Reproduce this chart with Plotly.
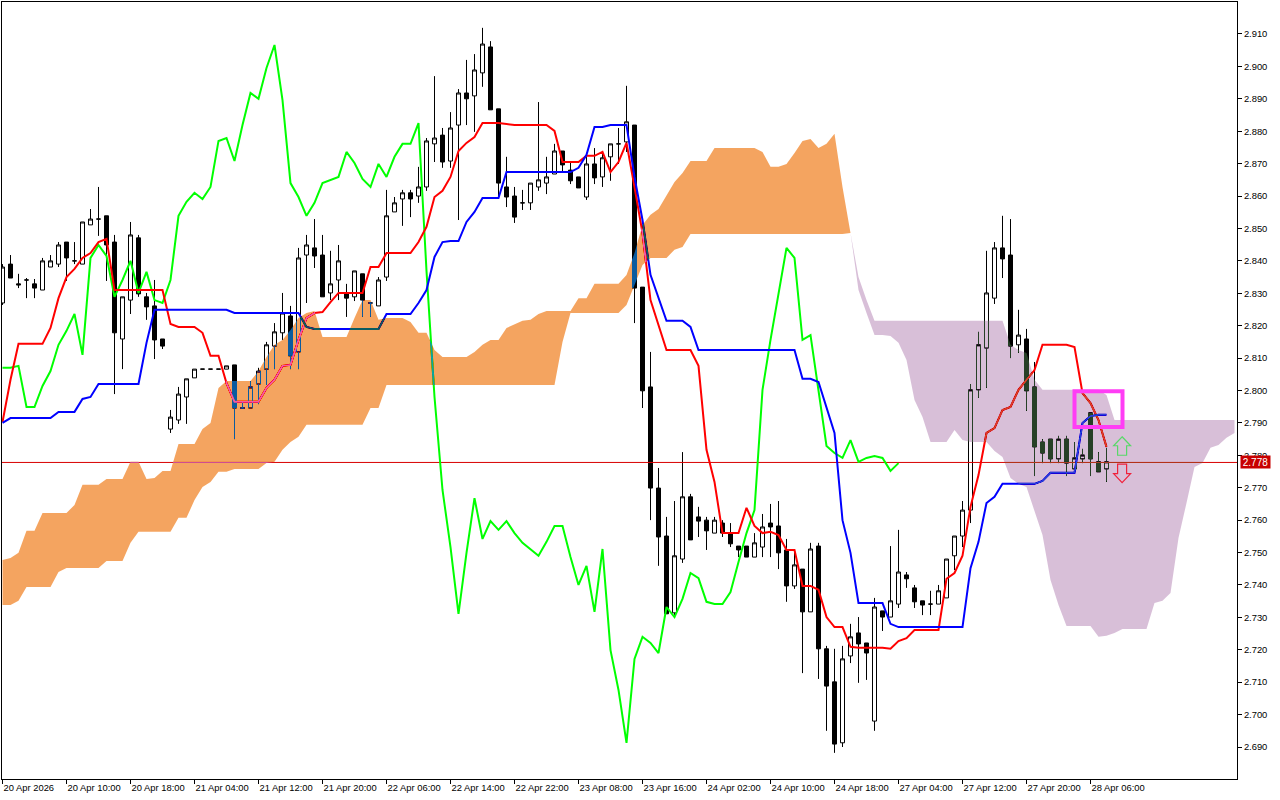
import plotly.graph_objects as go

open_ = [2.8270,2.8390,2.8329,2.8341,2.8329,2.8310,2.8381,2.8390,2.8458,2.8400,
2.8390,2.8511,2.8529,2.8539,2.8458,2.8159,2.8279,2.8471,2.8289,2.8261,
2.8159,2.7881,2.7909,2.7980,2.8039,2.8066,2.8066,2.8066,2.8066,2.8079,
2.7946,2.7946,2.8020,2.8066,2.8137,2.8178,2.8230,2.8119,2.8418,2.8440,
2.8418,2.8301,2.8341,2.8301,2.8289,2.8360,2.8270,2.8261,2.8350,2.8551,
2.8591,2.8610,2.8600,2.8628,2.8761,2.8788,2.8708,2.8819,2.8918,2.8909,
2.8980,2.9060,2.8869,2.8628,2.8600,2.8579,2.8579,2.8628,2.8640,2.8668,
2.8739,2.8680,2.8659,2.8597,2.8699,2.8659,2.8721,2.8761,2.8767,2.8819,
2.8319,2.8011,2.7699,2.7551,2.7314,2.7480,2.7672,2.7610,2.7600,2.7560,
2.7591,2.7560,2.7520,2.7520,2.7486,2.7517,2.7591,2.7582,2.7508,2.7397,
2.7449,2.7317,2.7520,2.7203,2.7101,2.6913,2.7181,2.7252,2.7221,2.6980,
2.7320,2.7301,2.7341,2.7431,2.7391,2.7351,2.7341,2.7341,2.7360,2.7490,
2.7551,2.7631,2.8002,2.8131,2.8285,2.8440,2.8418,2.8141,2.8159,2.8011,
2.7841,2.7850,2.7789,2.7850,2.7758,2.7789,2.7931,2.7780,2.7758]

high = [2.8390,2.8418,2.8360,2.8347,2.8344,2.8409,2.8418,2.8458,2.8458,2.8458,
2.8520,2.8560,2.8628,2.8539,2.8480,2.8289,2.8520,2.8480,2.8301,2.8341,
2.8159,2.7940,2.8011,2.8036,2.8066,2.8066,2.8066,2.8066,2.8076,2.8079,
2.7965,2.8029,2.8070,2.8150,2.8208,2.8301,2.8261,2.8440,2.8480,2.8529,
2.8480,2.8431,2.8449,2.8329,2.8369,2.8360,2.8270,2.8350,2.8619,2.8597,
2.8619,2.8619,2.8690,2.8779,2.8970,2.8810,2.8859,2.8930,2.9020,2.9038,
2.9119,2.9078,2.8869,2.8721,2.8628,2.8619,2.8640,2.8890,2.8721,2.8761,
2.8739,2.8708,2.8659,2.8721,2.8748,2.8739,2.8761,2.8810,2.8940,2.8819,
2.8319,2.8119,2.7761,2.7610,2.7659,2.7810,2.7681,2.7641,2.7610,2.7610,
2.7600,2.7591,2.7520,2.7520,2.7560,2.7619,2.7650,2.7659,2.7542,2.7508,
2.7449,2.7530,2.7530,2.7212,2.7203,2.7212,2.7280,2.7301,2.7221,2.7360,
2.7320,2.7520,2.7570,2.7440,2.7400,2.7351,2.7382,2.7400,2.7480,2.7551,
2.7659,2.8020,2.8181,2.8431,2.8458,2.8539,2.8529,2.8249,2.8190,2.8088,
2.7850,2.7850,2.7860,2.7860,2.7841,2.7820,2.7931,2.7810,2.7823]

low = [2.8264,2.8347,2.8316,2.8285,2.8285,2.8310,2.8381,2.8381,2.8338,2.8390,
2.8390,2.8511,2.8477,2.8338,2.7989,2.8066,2.8236,2.8289,2.8218,2.8097,
2.8128,2.7869,2.7897,2.7897,2.8039,2.8066,2.8066,2.8066,2.8066,2.7850,
2.7946,2.7946,2.7958,2.8017,2.8066,2.8156,2.8066,2.8066,2.8270,2.8378,
2.8289,2.8279,2.8279,2.8227,2.8276,2.8227,2.8227,2.8261,2.8338,2.8551,
2.8508,2.8535,2.8579,2.8616,2.8705,2.8687,2.8687,2.8526,2.8819,2.8798,
2.8937,2.8866,2.8597,2.8566,2.8517,2.8557,2.8557,2.8616,2.8606,2.8668,
2.8674,2.8637,2.8625,2.8588,2.8637,2.8628,2.8647,2.8699,2.8736,2.8208,
2.7946,2.7600,2.7459,2.7311,2.7301,2.7468,2.7539,2.7548,2.7508,2.7560,
2.7548,2.7517,2.7486,2.7486,2.7486,2.7486,2.7486,2.7449,2.7348,2.7388,
2.7128,2.7317,2.7110,2.6950,2.6882,2.6900,2.7159,2.7098,2.7107,2.6950,
2.7258,2.7301,2.7329,2.7391,2.7329,2.7307,2.7307,2.7341,2.7360,2.7446,
2.7517,2.7591,2.7977,2.8008,2.8267,2.8347,2.8100,2.8116,2.7937,2.7736,
2.7776,2.7776,2.7776,2.7736,2.7758,2.7776,2.7736,2.7749,2.7718]

close = [2.8381,2.8347,2.8326,2.8341,2.8316,2.8400,2.8400,2.8449,2.8409,2.8400,
2.8520,2.8529,2.8529,2.8449,2.8178,2.8289,2.8480,2.8298,2.8258,2.8156,
2.8137,2.7918,2.7989,2.8036,2.8066,2.8066,2.8066,2.8066,2.8076,2.7946,
2.7946,2.8011,2.8060,2.8141,2.8181,2.8239,2.8107,2.8409,2.8449,2.8415,
2.8289,2.8329,2.8400,2.8285,2.8369,2.8279,2.8270,2.8341,2.8539,2.8579,
2.8610,2.8591,2.8628,2.8770,2.8779,2.8705,2.8810,2.8918,2.8900,2.8989,
2.9069,2.8866,2.8640,2.8597,2.8535,2.8579,2.8640,2.8650,2.8659,2.8739,
2.8696,2.8647,2.8625,2.8699,2.8656,2.8718,2.8761,2.8761,2.8829,2.8316,
2.7999,2.7699,2.7548,2.7311,2.7490,2.7672,2.7539,2.7597,2.7567,2.7600,
2.7560,2.7527,2.7508,2.7486,2.7530,2.7579,2.7579,2.7499,2.7397,2.7462,
2.7317,2.7511,2.7203,2.7088,2.6909,2.7172,2.7240,2.7218,2.7190,2.7332,
2.7301,2.7351,2.7440,2.7419,2.7348,2.7338,2.7341,2.7382,2.7480,2.7551,
2.7631,2.8002,2.8141,2.8301,2.8440,2.8406,2.8137,2.8171,2.7999,2.7826,
2.7807,2.7789,2.7850,2.7776,2.7792,2.7801,2.7789,2.7749,2.7780]

tenkan = [2.7903,2.8033,2.8144,2.8144,2.8144,2.8144,2.8193,2.8285,2.8350,2.8375,
2.8409,2.8424,2.8458,2.8468,2.8310,2.8310,2.8310,2.8310,2.8310,2.8310,
2.8310,2.8205,2.8196,2.8196,2.8196,2.8178,2.8107,2.8107,2.8023,2.7965,
2.7965,2.7965,2.7965,2.8008,2.8033,2.8076,2.8079,2.8156,2.8224,2.8239,
2.8242,2.8273,2.8301,2.8301,2.8301,2.8301,2.8381,2.8381,2.8424,2.8424,
2.8424,2.8424,2.8458,2.8505,2.8597,2.8616,2.8659,2.8739,2.8764,2.8782,
2.8825,2.8825,2.8825,2.8822,2.8819,2.8819,2.8819,2.8819,2.8819,2.8801,
2.8705,2.8705,2.8705,2.8724,2.8724,2.8736,2.8674,2.8705,2.8764,2.8628,
2.8486,2.8279,2.8202,2.8125,2.8125,2.8125,2.8125,2.8076,2.7817,2.7718,
2.7560,2.7560,2.7560,2.7638,2.7582,2.7560,2.7564,2.7554,2.7508,2.7508,
2.7397,2.7397,2.7385,2.7301,2.7270,2.7270,2.7209,2.7206,2.7206,2.7206,
2.7206,2.7203,2.7227,2.7236,2.7261,2.7261,2.7261,2.7261,2.7419,2.7437,
2.7490,2.7641,2.7739,2.7869,2.7884,2.7940,2.7949,2.8002,2.8033,2.8063,
2.8141,2.8141,2.8141,2.8141,2.8134,2.7992,2.7961,2.7909,2.7826]

kijun = [2.7900,2.7915,2.7915,2.7915,2.7915,2.7915,2.7915,2.7934,2.7934,2.7934,
2.7974,2.7980,2.8020,2.8020,2.8020,2.8020,2.8020,2.8020,2.8147,2.8249,
2.8249,2.8249,2.8249,2.8249,2.8249,2.8249,2.8249,2.8249,2.8249,2.8239,
2.8239,2.8239,2.8239,2.8239,2.8239,2.8239,2.8239,2.8239,2.8196,2.8190,
2.8190,2.8190,2.8190,2.8190,2.8190,2.8190,2.8190,2.8190,2.8236,2.8236,
2.8236,2.8236,2.8270,2.8310,2.8412,2.8458,2.8461,2.8461,2.8520,2.8551,
2.8594,2.8594,2.8594,2.8674,2.8674,2.8674,2.8674,2.8674,2.8674,2.8674,
2.8674,2.8674,2.8687,2.8727,2.8813,2.8813,2.8819,2.8819,2.8819,2.8659,
2.8526,2.8357,2.8285,2.8215,2.8215,2.8215,2.8196,2.8125,2.8125,2.8125,
2.8125,2.8125,2.8125,2.8125,2.8125,2.8125,2.8125,2.8125,2.8125,2.8125,
2.8036,2.8036,2.8026,2.7949,2.7869,2.7600,2.7499,2.7344,2.7344,2.7344,
2.7344,2.7280,2.7270,2.7270,2.7270,2.7270,2.7270,2.7270,2.7270,2.7270,
2.7270,2.7452,2.7533,2.7653,2.7672,2.7712,2.7712,2.7712,2.7712,2.7712,
2.7721,2.7746,2.7746,2.7746,2.7746,2.7900,2.7921,2.7925,2.7925]

chikou = [2.8070,2.8070,2.8076,2.7949,2.7949,2.8014,2.8060,2.8141,2.8184,2.8236,
2.8110,2.8409,2.8449,2.8415,2.8289,2.8341,2.8400,2.8301,2.8366,2.8279,
2.8270,2.8341,2.8539,2.8582,2.8610,2.8591,2.8628,2.8770,2.8779,2.8708,
2.8819,2.8918,2.8900,2.8995,2.9066,2.8896,2.8640,2.8597,2.8539,2.8579,
2.8640,2.8650,2.8659,2.8736,2.8702,2.8653,2.8628,2.8699,2.8659,2.8721,
2.8761,2.8761,2.8825,2.8369,2.7980,2.7693,2.7517,2.7311,2.7499,2.7668,
2.7542,2.7597,2.7570,2.7597,2.7560,2.7530,2.7511,2.7490,2.7533,2.7582,
2.7582,2.7486,2.7400,2.7459,2.7317,2.7511,2.7199,2.7076,2.6913,2.7172,
2.7240,2.7221,2.7190,2.7332,2.7301,2.7357,2.7437,2.7421,2.7348,2.7341,
2.7341,2.7378,2.7471,2.7560,2.7631,2.8002,2.8156,2.8301,2.8440,2.8409,
2.8156,2.8171,2.8002,2.7829,2.7807,2.7792,2.7847,2.7780,2.7792,2.7798,
2.7792,2.7752,2.7776]

span_a = [2.7477,2.7483,2.7499,2.7567,2.7567,2.7622,2.7622,2.7622,2.7622,2.7647,
2.7709,2.7709,2.7709,2.7727,2.7727,2.7727,2.7780,2.7780,2.7727,2.7730,
2.7752,2.7752,2.7835,2.7835,2.7835,2.7881,2.7900,2.8008,2.8029,2.8029,
2.8029,2.8029,2.8060,2.8103,2.8141,2.8156,2.8187,2.8224,2.8239,2.8245,
2.8165,2.8165,2.8165,2.8165,2.8224,2.8279,2.8279,2.8218,2.8224,2.8224,
2.8224,2.8211,2.8178,2.8178,2.8125,2.8103,2.8103,2.8103,2.8103,2.8119,
2.8141,2.8156,2.8156,2.8193,2.8205,2.8215,2.8218,2.8236,2.8245,2.8245,
2.8245,2.8245,2.8285,2.8285,2.8329,2.8329,2.8329,2.8329,2.8356,2.8424,
2.8511,2.8542,2.8560,2.8603,2.8643,2.8671,2.8708,2.8708,2.8708,2.8748,
2.8748,2.8748,2.8748,2.8748,2.8748,2.8736,2.8690,2.8690,2.8699,2.8733,
2.8770,2.8776,2.8748,2.8761,2.8792,2.8628,2.8486,
2.8310,2.8239,2.8171,2.8171,2.8168,2.8147,2.8094,2.7971,2.7918,2.7841,
2.7841,2.7841,2.7878,2.7847,2.7841,2.7841,2.7841,2.7813,2.7795,2.7730,
2.7712,2.7702,2.7625,2.7554,2.7415,2.7338,2.7273,2.7273,2.7273,2.7273,
2.7240,2.7243,2.7252,2.7264,2.7264,2.7264,2.7264,2.7344,2.7351,2.7375,
2.7545,2.7653,2.7764,2.7776,2.7823,2.7832,2.7854,2.7869]

span_b = [2.7338,2.7338,2.7351,2.7394,2.7394,2.7394,2.7394,2.7440,2.7452,2.7452,
2.7452,2.7452,2.7452,2.7474,2.7474,2.7474,2.7530,2.7564,2.7564,2.7564,
2.7564,2.7564,2.7607,2.7607,2.7662,2.7702,2.7718,2.7749,2.7749,2.7758,
2.7758,2.7758,2.7758,2.7776,2.7780,2.7817,2.7841,2.7857,2.7894,2.7894,
2.7894,2.7894,2.7894,2.7894,2.7894,2.7894,2.7946,2.7946,2.8017,2.8017,
2.8017,2.8017,2.8017,2.8017,2.8017,2.8017,2.8017,2.8017,2.8017,2.8017,
2.8017,2.8017,2.8017,2.8017,2.8017,2.8017,2.8017,2.8017,2.8017,2.8017,
2.8150,2.8239,2.8239,2.8239,2.8239,2.8239,2.8239,2.8239,2.8264,2.8326,
2.8387,2.8409,2.8409,2.8409,2.8434,2.8443,2.8483,2.8483,2.8483,2.8483,
2.8483,2.8483,2.8483,2.8483,2.8483,2.8483,2.8483,2.8483,2.8483,2.8483,
2.8483,2.8483,2.8483,2.8483,2.8483,2.8483,2.8486,
2.8350,2.8279,2.8215,2.8215,2.8215,2.8215,2.8215,2.8215,2.8215,2.8215,
2.8215,2.8215,2.8215,2.8215,2.8215,2.8215,2.8215,2.8215,2.8215,2.8141,
2.8125,2.8116,2.8033,2.8002,2.8002,2.8002,2.8002,2.8002,2.8002,2.8002,
2.8002,2.7986,2.7909,2.7909,2.7909,2.7909,2.7909,2.7909,2.7909,2.7909,
2.7909,2.7909,2.7909,2.7909,2.7909,2.7909,2.7909,2.7909]

tick_bars = [0,8,16,24,32,40,48,56,64,72,80,88,96,104,112,120,128,136]
tick_labels = ["20 Apr 2026","20 Apr 10:00","20 Apr 18:00","21 Apr 04:00","21 Apr 12:00","21 Apr 20:00",
               "22 Apr 06:00","22 Apr 14:00","22 Apr 22:00","23 Apr 08:00","23 Apr 16:00","24 Apr 02:00",
               "24 Apr 10:00","24 Apr 18:00","27 Apr 04:00","27 Apr 12:00","27 Apr 20:00","28 Apr 06:00"]
price_ticks = [2.69,2.70,2.71,2.72,2.73,2.74,2.75,2.76,2.77,2.78,2.79,2.80,2.81,2.82,2.83,2.84,2.85,2.86,2.87,2.88,2.89,2.90,2.91]
last_price = 2.7778
X_RANGE = [-0.0625, 154.3125]
Y_RANGE = [2.68013, 2.91987]

for s, n in [(open_,139),(high,139),(low,139),(close,139),(tenkan,139),(kijun,139),(chikou,113),(span_a,155),(span_b,155)]:
    assert len(s) == n, (len(s), n)

bars = list(range(139))
cloud_x = list(range(155))
FONT = "Liberation Sans"

fig = go.Figure()
# An opaque white sheet inside the clipped plot group: the cloud's blend needs a backdrop to work on.
fig.add_trace(go.Bar(x=[(X_RANGE[0] + X_RANGE[1]) / 2], width=[X_RANGE[1] - X_RANGE[0] + 2], base=[Y_RANGE[0]],
                     y=[Y_RANGE[1] - Y_RANGE[0]], marker=dict(color="white", line=dict(width=0)), hoverinfo="skip"))
fig.add_trace(go.Candlestick(
    x=bars, open=open_, high=high, low=low, close=close, hoverinfo="skip", whiskerwidth=0,
    increasing=dict(line=dict(color="black", width=1), fillcolor="white"),
    decreasing=dict(line=dict(color="black", width=1), fillcolor="black"),
))
fig.add_trace(go.Scatter(x=[-1, 155], y=[last_price, last_price], mode="lines", hoverinfo="skip",
                         line=dict(color="#D80000", width=1)))
for series, colour in [(chikou, "#00FF00"), (tenkan, "#FF0000"), (kijun, "#0000FF")]:
    fig.add_trace(go.Scatter(x=bars[:len(series)], y=series, mode="lines", hoverinfo="skip",
                             line=dict(color=colour, width=2)))

# Cloud colours are the complements of sandy brown / thistle: they are drawn with a
# "difference" blend so everything under the cloud is recoloured as in the reference.
for x, a, b, colour in [(cloud_x[:107], span_a[:107], span_b[:107], "#0B5B9F"),
                        (cloud_x[106:], span_a[106:], span_b[106:], "#274027")]:
    fig.add_trace(go.Scatter(x=x, y=b, mode="lines", line=dict(width=0), hoverinfo="skip"))
    fig.add_trace(go.Scatter(x=x, y=a, mode="lines", line=dict(width=0), hoverinfo="skip",
                             fill="tonexty", fillcolor=colour))

def arrow_path(bar, price, direction):
    PX_BAR, PX_PRICE = 8.0, 3241.0
    pts = [(0, -9.5), (8.5, -0.5), (4.5, -0.5), (4.5, 9), (-4.5, 9), (-4.5, -0.5), (-8.5, -0.5)]
    out = []
    for n, (dx, dy) in enumerate(pts):
        xv = bar + dx / PX_BAR
        yv = price - direction * dy / PX_PRICE
        out.append(("M" if n == 0 else "L") + f"{xv:.4f},{yv:.5f}")
    return " ".join(out) + " Z"

shapes = [
    dict(type="rect", xref="x", yref="y", x0=134, x1=140, y0=2.7887, y1=2.7998,
         line=dict(color="#FF3DF5", width=4), layer="above"),
    dict(type="path", xref="x", yref="y", path=arrow_path(139.95, 2.7828, 1),
         line=dict(color="#58D868", width=1.2), layer="above"),
    dict(type="path", xref="x", yref="y", path=arrow_path(139.95, 2.7745, -1),
         line=dict(color="#F0203A", width=1.2), layer="above"),
]

fig.add_annotation(xref="paper", yref="y", x=1, y=last_price, xanchor="left", yanchor="middle", xshift=3,
                   text="2.778", showarrow=False, bgcolor="#C80000", borderpad=0,
                   font=dict(family=FONT, size=10, color="white"), width=29, height=12)

fig.update_layout(
    width=1280, height=800, autosize=False, showlegend=False,
    margin=dict(l=2, r=43, t=2, b=21, pad=0),
    paper_bgcolor="white", plot_bgcolor="white", boxgap=0.2857, shapes=shapes,
    xaxis=dict(range=X_RANGE, rangeslider=dict(visible=False), tickmode="array",
               tickvals=tick_bars, ticktext=tick_labels, ticks="outside", ticklen=4, tickwidth=1,
               tickcolor="black", showline=True, linecolor="black", linewidth=1, mirror=True,
               showgrid=False, zeroline=False, ticklabelposition="outside right",
               tickfont=dict(family=FONT, size=9.4, color="black"), automargin=False),
    yaxis=dict(range=Y_RANGE, side="right", tickmode="array", tickvals=price_ticks,
               tickformat=".3f", ticks="outside", ticklen=4, tickwidth=1, tickcolor="black",
               showline=True, linecolor="black", linewidth=1, mirror=True, showgrid=False,
               zeroline=False, tickfont=dict(family=FONT, size=9.4, color="black"), automargin=False),
)

post = """
document.body.style.margin='0';
var blendCloud = function(){
  document.querySelectorAll('path').forEach(function(p){
    var f = p.style.fill || '';
    if(f.indexOf('11, 91, 159')>=0 || f.indexOf('39, 64, 39')>=0){
      p.style.setProperty('mix-blend-mode','difference','important');
    }
  });
};
blendCloud();
setTimeout(blendCloud, 50);
setTimeout(blendCloud, 300);
var gd = document.querySelector('.js-plotly-plot');
if(gd && gd.on){ gd.on('plotly_afterplot', blendCloud); }
"""
fig.write_html("out.html", post_script=post, config={"displayModeBar": False})
